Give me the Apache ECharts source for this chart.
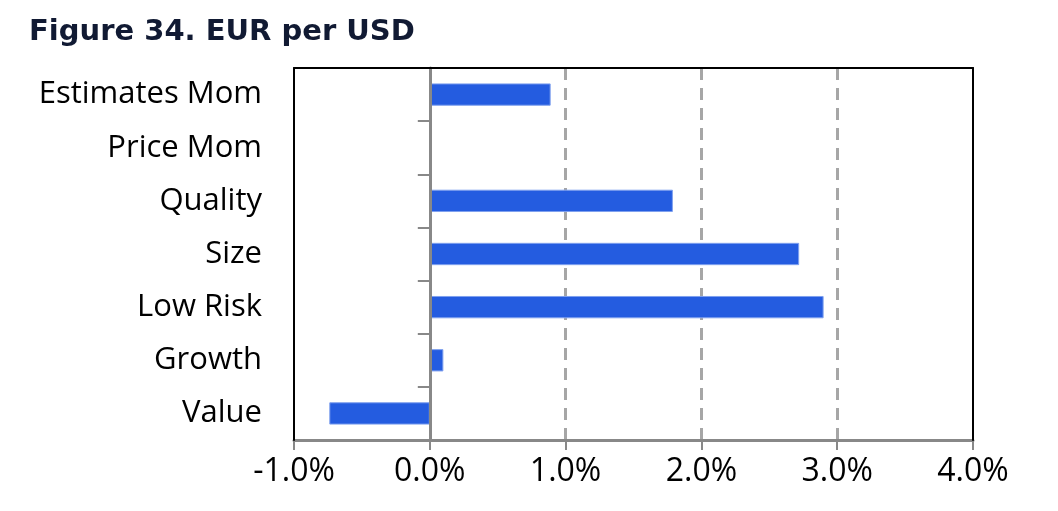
<!DOCTYPE html>
<html><head><meta charset="utf-8">
<script src="https://cdn.jsdelivr.net/npm/echarts@6/dist/echarts.min.js"></script>
<style>html,body{margin:0;padding:0;background:#fff}#c{width:1058px;height:511px}</style>
</head><body><div id="c"></div>
<script>
const categories = ["Value", "Growth", "Low Risk", "Size", "Quality", "Price Mom", "Estimates Mom"];
const values = [-0.74, 0.10, 2.90, 2.72, 1.79, 0.0, 0.89];
const xTicks = [-1, 0, 1, 2, 3, 4];
const titleText = "Figure 34. EUR per USD";

const GL = 294, GR = 85, XMIN = xTicks[0], XMAX = xTicks[xTicks.length - 1];
const plotW = 1058 - GL - GR;
const zeroOffset = -plotW * (0 - XMIN) / (XMAX - XMIN);

const chart = echarts.init(document.getElementById('c'));
chart.setOption({
  animation: false,
  backgroundColor: '#ffffff',
  title: {
    text: titleText, left: 24, top: 13,
    textStyle: { fontFamily: 'DejaVu Sans', fontWeight: 'bold', fontSize: 29, color: '#111a33' }
  },
  grid: { left: GL, right: GR, top: 68, bottom: 71 },
  xAxis: [{
    type: 'value', min: XMIN, max: XMAX, interval: 1, position: 'bottom',
    axisLine: { show: true, onZero: false, lineStyle: { color: '#888', width: 3 } },
    axisTick: { show: true, length: 10, lineStyle: { color: '#888', width: 2 } },
    axisLabel: { formatter: v => v.toFixed(1) + '%', fontFamily: 'Open Sans', fontSize: 32, color: '#000', margin: 16 },
    splitLine: { show: true, showMinLine: false, showMaxLine: false, lineStyle: { type: [12, 8], color: '#a6a6a6', width: 3 } },
    z: 2
  }, {
    type: 'value', min: XMIN, max: XMAX, interval: 1, position: 'top',
    axisLine: { show: true, onZero: false, lineStyle: { color: '#000', width: 2 } },
    axisTick: { show: false }, axisLabel: { show: false }, splitLine: { show: false },
    z: 5
  }],
  yAxis: [{
    type: 'category', data: categories, position: 'left',
    axisLine: { show: true, onZero: false, lineStyle: { color: '#000', width: 2 } }, axisTick: { show: false },
    axisLabel: { fontFamily: 'Open Sans', fontSize: 31, color: '#000', margin: 32 },
    splitLine: { show: false },
    z: 5
  }, {
    type: 'category', data: categories, position: 'left', offset: zeroOffset,
    axisLine: { show: true, onZero: false, lineStyle: { color: '#888', width: 3 } },
    axisTick: { show: true, length: 12, lineStyle: { color: '#888', width: 2 } },
    axisLabel: { show: false }, splitLine: { show: false },
    z: 4
  }, {
    type: 'category', data: categories, position: 'right',
    axisLine: { show: true, onZero: false, lineStyle: { color: '#000', width: 2 } },
    axisTick: { show: false }, axisLabel: { show: false }, splitLine: { show: false },
    z: 5
  }],
  series: [{
    type: 'bar', data: values, yAxisIndex: 0, barWidth: '42%',
    itemStyle: { color: '#245ce0', borderColor: '#7fa0ee', borderWidth: 1 },
    z: 3
  }]
});
</script></body></html>
